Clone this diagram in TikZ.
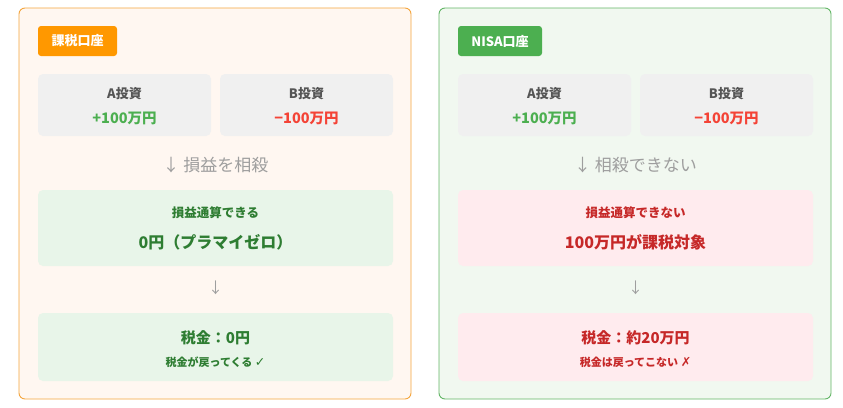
\documentclass[tikz,border=0pt]{standalone}
\usepackage{fontspec}
\usepackage{xcolor}
\setmainfont{Noto Sans CJK JP}
\newfontfamily\symfont{DejaVu Sans}
\definecolor{tax-orange}{HTML}{FF9800}
\definecolor{tax-line}{HTML}{F4A53C}
\definecolor{tax-bg}{HTML}{FFF7F1}
\definecolor{nisa-green}{HTML}{4CAF50}
\definecolor{nisa-line}{HTML}{62B565}
\definecolor{nisa-bg}{HTML}{F1F8F0}
\definecolor{invest-gray}{HTML}{F0F0F0}
\definecolor{label-gray}{HTML}{555555}
\definecolor{plus-green}{HTML}{4CAF50}
\definecolor{minus-red}{HTML}{F44336}
\definecolor{ok-bg}{HTML}{E8F5E9}
\definecolor{ok-text}{HTML}{2E7D32}
\definecolor{ng-bg}{HTML}{FFEBEE}
\definecolor{ng-text}{HTML}{C62828}
\definecolor{arrow-gray}{HTML}{9E9E9E}
\tikzset{
    account-panel/.style = {draw=#1, rectangle, rounded corners=6pt, line width=0.9pt, minimum width=392pt, minimum height=391pt, inner sep=0pt},
    badge/.style = {fill=#1, text=white, rounded corners=3pt, minimum width=79pt, minimum height=30pt, inner sep=0pt, font=\bfseries\fontsize{13}{15}\selectfont},
    invest-box/.style = {fill=invest-gray, rounded corners=5pt, minimum width=173pt, minimum height=62pt, inner sep=0pt},
    result-box/.style = {fill=#1, rounded corners=5pt, minimum width=355pt, inner sep=0pt},
    invest-label/.style = {text=label-gray, font=\bfseries\fontsize{13}{15}\selectfont},
    invest-value/.style = {text=#1, font=\bfseries\fontsize{14.5}{17}\selectfont},
    step-text/.style = {text=arrow-gray, font=\fontsize{17}{20}\selectfont},
    small-arrow/.style = {text=arrow-gray, font=\fontsize{15}{18}\selectfont},
    result-head/.style = {text=#1, font=\bfseries\fontsize{12.5}{15}\selectfont},
    result-big/.style = {text=#1, font=\bfseries\fontsize{16}{19}\selectfont},
    result-note/.style = {text=#1, font=\bfseries\fontsize{11}{13}\selectfont},
}

\begin{document}
\begin{tikzpicture}[x=1pt, y=-1pt]
\useasboundingbox (0,0) rectangle (843,407);

% taxable account
\node[account-panel=tax-line, fill=tax-bg] (tax-panel) at (215,203.5) {};
\node[badge=tax-orange] (tax-badge) at (77.5,41) {課税口座};
\node[invest-box] (tax-a) at (124.5,105) {};
\node[invest-box] (tax-b) at (306.5,105) {};
\node[invest-label] (tax-a-label) at (124.5,94) {A投資};
\node[invest-value=plus-green] (tax-a-value) at (124.5,118) {+100万円};
\node[invest-label] (tax-b-label) at (306.5,94) {B投資};
\node[invest-value=minus-red] (tax-b-value) at (306.5,118) {−100万円};
\node[step-text] (tax-step) at (215.5,165) {↓ 損益を相殺};
\node[result-box=ok-bg, minimum height=76pt] (tax-result) at (215.5,228) {};
\node[result-head=ok-text] (tax-result-head) at (215.5,213) {損益通算できる};
\node[result-big=ok-text] (tax-result-big) at (215.5,242) {0円（プラマイゼロ）};
\node[small-arrow] (tax-arrow) at (215.5,288) {↓};
\node[result-box=ok-bg, minimum height=68pt] (tax-final) at (215.5,347) {};
\node[result-big=ok-text, font=\bfseries\fontsize{15}{18}\selectfont] (tax-final-big) at (215.5,338) {税金：0円};
\node[result-note=ok-text] (tax-final-note) at (215.5,362) {税金が戻ってくる {\symfont\fontsize{12.5}{13}\selectfont ✓}};

% NISA account
\node[account-panel=nisa-line, fill=nisa-bg] (nisa-panel) at (635,203.5) {};
\node[badge=nisa-green, minimum width=84pt] (nisa-badge) at (500,41) {NISA口座};
\node[invest-box] (nisa-a) at (544.5,105) {};
\node[invest-box] (nisa-b) at (726.5,105) {};
\node[invest-label] (nisa-a-label) at (544.5,94) {A投資};
\node[invest-value=plus-green] (nisa-a-value) at (544.5,118) {+100万円};
\node[invest-label] (nisa-b-label) at (726.5,94) {B投資};
\node[invest-value=minus-red] (nisa-b-value) at (726.5,118) {−100万円};
\node[step-text] (nisa-step) at (635.5,165) {↓ 相殺できない};
\node[result-box=ng-bg, minimum height=76pt] (nisa-result) at (635.5,228) {};
\node[result-head=ng-text] (nisa-result-head) at (635.5,213) {損益通算できない};
\node[result-big=ng-text] (nisa-result-big) at (635.5,242) {100万円が課税対象};
\node[small-arrow] (nisa-arrow) at (635.5,288) {↓};
\node[result-box=ng-bg, minimum height=68pt] (nisa-final) at (635.5,347) {};
\node[result-big=ng-text, font=\bfseries\fontsize{15}{18}\selectfont] (nisa-final-big) at (635.5,338) {税金：約20万円};
\node[result-note=ng-text] (nisa-final-note) at (635.5,362) {税金は戻ってこない {\symfont\fontsize{12.5}{13}\selectfont ✗}};
\end{tikzpicture}
\end{document}
